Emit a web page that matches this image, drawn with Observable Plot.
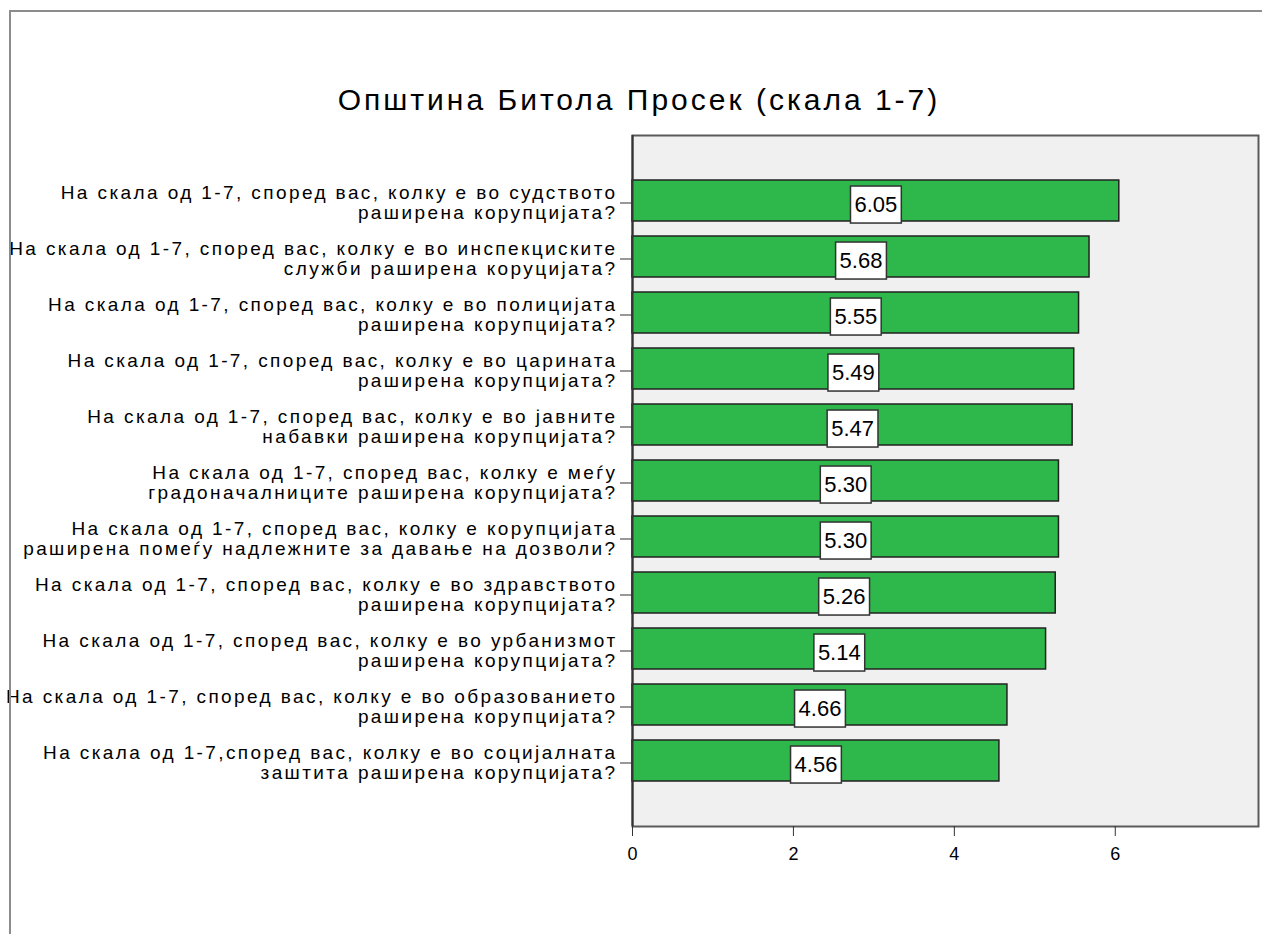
<!DOCTYPE html>
<html><head><meta charset="utf-8">
<script src="https://cdn.jsdelivr.net/npm/d3@7"></script>
<script src="https://cdn.jsdelivr.net/npm/@observablehq/plot@0.6"></script>
<style>
body{margin:0;background:#fff;font-family:"Liberation Sans",Arial,sans-serif}
#wrap{position:relative;width:1262px;height:934px;overflow:hidden}
#title{height:133px;box-sizing:border-box;padding-top:82px;padding-left:16px;text-align:center;font-size:30px;letter-spacing:3px;line-height:36px;color:#000;white-space:nowrap}
#border{position:absolute;left:9px;top:10px;width:1400px;height:1000px;border-top:2px solid #8c8c8c;border-left:2px solid #8c8c8c;pointer-events:none}
</style></head>
<body>
<div id="wrap">
  <div id="title">Општина Битола Просек (скала 1-7)</div>
  <div id="chart"></div>
  <div id="border"></div>
</div>
<script>
const questions = [
  "На скала од 1-7, според вас, колку е во судството\nраширена корупцијата?",
  "На скала од 1-7, според вас, колку е во инспекциските\nслужби раширена коруцијата?",
  "На скала од 1-7, според вас, колку е во полицијата\nраширена корупцијата?",
  "На скала од 1-7, според вас, колку е во царината\nраширена корупцијата?",
  "На скала од 1-7, според вас, колку е во јавните\nнабавки раширена корупцијата?",
  "На скала од 1-7, според вас, колку е меѓу\nградоначалниците раширена корупцијата?",
  "На скала од 1-7, според вас, колку е корупцијата\nраширена помеѓу надлежните за давање на дозволи?",
  "На скала од 1-7, според вас, колку е во здравството\nраширена корупцијата?",
  "На скала од 1-7, според вас, колку е во урбанизмот\nраширена корупцијата?",
  "На скала од 1-7, според вас, колку е во образованието\nраширена корупцијата?",
  "На скала од 1-7,според вас, колку е во социјалната\nзаштита раширена корупцијата?"
];
const means = [6.05, 5.68, 5.55, 5.49, 5.47, 5.30, 5.30, 5.26, 5.14, 4.66, 4.56];
const xTicks = [0, 2, 4, 6];
const xMax = 7.78;

const data = questions.map((q, i) => ({q, v: means[i]}));

const chart = Plot.plot({
  width: 1262,
  height: 801,
  marginTop: 2,
  marginBottom: 108,
  marginLeft: 632,
  marginRight: 4,
  style: {fontFamily: "Liberation Sans, Arial, sans-serif", fontSize: "16px", background: "transparent", color: "#000"},
  x: {domain: [0, xMax]},
  y: {domain: questions, paddingInner: 0.26, paddingOuter: 0.73},
  marks: [
    Plot.frame({fill: "#f0f0f0", stroke: "#5a5a5a", strokeWidth: 2}),
    Plot.barX(data, {x: "v", y: "q", fill: "#2eb74a", stroke: "#222", strokeWidth: 1.5}),
    Plot.ruleX([0], {stroke: "#333", strokeWidth: 2}),
    Plot.text(data, {x: d => d.v / 2, y: "q", text: d => d.v.toFixed(2), fontSize: 22, dy: 4, fill: "#000"}),
    Plot.axisY({tickSize: 12, tickPadding: 3, fontSize: 19, lineHeight: 1.05, dy: 2, label: null, stroke: "#333"}),
    Plot.axisX({ticks: xTicks, tickSize: 10, tickPadding: 11, fontSize: 18, label: null, stroke: "#333"})
  ]
});
document.getElementById("chart").appendChild(chart);

// letter spacing on the question labels
d3.select(chart).selectAll('g[aria-label="y-axis tick label"]').style("letter-spacing", "2.4px");

// white boxes behind value labels
d3.select(chart).selectAll('g[aria-label="text"] text').each(function() {
  const b = this.getBBox();
  const padX = 4, padY = 6;
  const r = document.createElementNS("http://www.w3.org/2000/svg", "rect");
  r.setAttribute("x", b.x - padX);
  r.setAttribute("y", b.y - padY);
  r.setAttribute("width", b.width + 2 * padX);
  r.setAttribute("height", b.height + 2 * padY);
  r.setAttribute("fill", "#fff");
  r.setAttribute("stroke", "#333");
  r.setAttribute("stroke-width", "1.5");
  const t = this.getAttribute("transform");
  if (t) r.setAttribute("transform", t);
  this.parentNode.insertBefore(r, this);
});
</script>
</body></html>
